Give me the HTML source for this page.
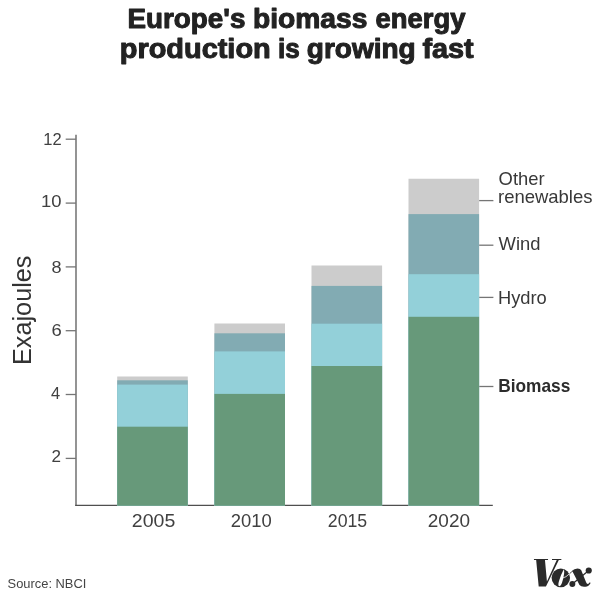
<!DOCTYPE html>
<html>
<head>
<meta charset="utf-8">
<title>Europe's biomass energy production is growing fast</title>
<style>
html,body{margin:0;padding:0;background:#fff;}
body{width:600px;height:603px;overflow:hidden;font-family:"Liberation Sans",sans-serif;}
svg{display:block;}
text{font-family:"Liberation Sans",sans-serif;}
.axis{stroke:#5a5a5a;stroke-width:1.3;fill:none;}
.tk{stroke:#757575;stroke-width:1.3;fill:none;}
</style>
</head>
<body>
<svg width="600" height="603" viewBox="0 0 600 603">
<rect width="600" height="603" fill="#ffffff"/>
<g>
<rect width="600" height="603" fill="#ffffff"/>

<!-- axes -->
<path class="axis" d="M76 134.8 V505.9"/>
<path d="M75.25 505.35 H492.8" stroke="#4f4f4f" stroke-width="1.1" fill="none"/>
<g class="tk">
<path d="M65.7 139.2H76"/>
<path d="M65.7 203.1H76"/>
<path d="M65.7 266.9H76"/>
<path d="M65.7 330.7H76"/>
<path d="M65.7 394.5H76"/>
<path d="M65.7 458.4H76"/>
<path d="M479.1 200.6H493.4"/>
<path d="M479.1 245.2H493.4"/>
<path d="M479.1 297.4H493.4"/>
<path d="M479.1 386.5H493.4"/>
</g>

<!-- bars -->
<g id="bars">
<defs>
<clipPath id="cb0"><rect x="117.2" y="376.4" width="70.6" height="129.3"/></clipPath>
<clipPath id="cb1"><rect x="214.4" y="323.6" width="70.6" height="182.1"/></clipPath>
<clipPath id="cb2"><rect x="311.5" y="265.6" width="70.6" height="240.1"/></clipPath>
<clipPath id="cb3"><rect x="408.5" y="178.8" width="70.6" height="326.9"/></clipPath>
</defs>
<g clip-path="url(#cb0)">
<rect x="114.2" y="373.4" width="76.6" height="134.9" fill="#cccccc"/>
<rect x="114.2" y="380.3" width="76.6" height="128.0" fill="#82abb3"/>
<rect x="114.2" y="384.6" width="76.6" height="123.7" fill="#93d0d9"/>
<rect x="114.2" y="426.7" width="76.6" height="81.6" fill="#67997a"/>
</g>
<g clip-path="url(#cb1)">
<rect x="211.4" y="320.6" width="76.6" height="187.7" fill="#cccccc"/>
<rect x="211.4" y="333.3" width="76.6" height="175.0" fill="#82abb3"/>
<rect x="211.4" y="351.4" width="76.6" height="156.9" fill="#93d0d9"/>
<rect x="211.4" y="393.9" width="76.6" height="114.4" fill="#67997a"/>
</g>
<g clip-path="url(#cb2)">
<rect x="308.5" y="262.6" width="76.6" height="245.7" fill="#cccccc"/>
<rect x="308.5" y="285.9" width="76.6" height="222.4" fill="#82abb3"/>
<rect x="308.5" y="323.7" width="76.6" height="184.6" fill="#93d0d9"/>
<rect x="308.5" y="366.0" width="76.6" height="142.3" fill="#67997a"/>
</g>
<g clip-path="url(#cb3)">
<rect x="405.5" y="175.8" width="76.6" height="332.5" fill="#cccccc"/>
<rect x="405.5" y="214.1" width="76.6" height="294.2" fill="#82abb3"/>
<rect x="405.5" y="274.2" width="76.6" height="234.1" fill="#93d0d9"/>
<rect x="405.5" y="316.8" width="76.6" height="191.5" fill="#67997a"/>
</g>
</g><!-- /bars -->


<!-- TEXT-BEGIN -->
<g opacity="0.999">
<text transform="translate(127.47 28.00) scale(1.0309 1)" font-size="27" font-weight="bold" fill="#222" stroke="#222" stroke-width="1.0" stroke-linejoin="round">Europe's</text>
<text transform="translate(252.96 28.00) scale(1.0444 1)" font-size="27" font-weight="bold" fill="#222" stroke="#222" stroke-width="1.0" stroke-linejoin="round">biomass</text>
<text transform="translate(375.58 28.00) scale(1.0157 1)" font-size="27" font-weight="bold" fill="#222" stroke="#222" stroke-width="1.0" stroke-linejoin="round">energy</text>
<text transform="translate(119.73 57.50) scale(1.0716 1)" font-size="27" font-weight="bold" fill="#222" stroke="#222" stroke-width="1.0" stroke-linejoin="round">production</text>
<text transform="translate(278.03 57.50) scale(0.9658 1)" font-size="27" font-weight="bold" fill="#222" stroke="#222" stroke-width="1.0" stroke-linejoin="round">is</text>
<text transform="translate(306.76 57.50) scale(1.0382 1)" font-size="27" font-weight="bold" fill="#222" stroke="#222" stroke-width="1.0" stroke-linejoin="round">growing</text>
<text transform="translate(422.40 57.50) scale(1.0682 1)" font-size="27" font-weight="bold" fill="#222" stroke="#222" stroke-width="1.0" stroke-linejoin="round">fast</text>
<text transform="translate(43.25 144.70) scale(0.9539 1)" font-size="17.3" fill="#404040">12</text>
<text transform="translate(40.93 207.00) scale(1.0675 1)" font-size="17.3" fill="#404040">10</text>
<text transform="translate(51.40 272.70) scale(1.0444 1)" font-size="17.3" fill="#404040">8</text>
<text transform="translate(51.40 336.40) scale(1.0667 1)" font-size="17.3" fill="#404040">6</text>
<text transform="translate(51.00 398.60) scale(0.9500 1)" font-size="17.3" fill="#404040">4</text>
<text transform="translate(51.40 461.70) scale(0.9889 1)" font-size="17.3" fill="#404040">2</text>
<text transform="translate(131.80 527.20) scale(1.0618 1)" font-size="18.4" fill="#404040">2005</text>
<text transform="translate(230.80 527.20) scale(1.0029 1)" font-size="18.4" fill="#404040">2010</text>
<text transform="translate(327.80 527.20) scale(0.9635 1)" font-size="18.4" fill="#404040">2015</text>
<text transform="translate(427.80 527.20) scale(1.0323 1)" font-size="18.4" fill="#404040">2020</text>
<text transform="translate(498.60 184.60) scale(0.9890 1)" font-size="18.6" fill="#383838">Other</text>
<text transform="translate(498.01 203.40) scale(0.9936 1)" font-size="18.6" fill="#383838">renewables</text>
<text transform="translate(498.60 250.30) scale(0.9900 1)" font-size="18.6" fill="#383838">Wind</text>
<text transform="translate(497.92 303.50) scale(0.9843 1)" font-size="18.6" fill="#383838">Hydro</text>
<text transform="translate(498.25 391.70) scale(0.9505 1)" font-size="18.2" font-weight="bold" fill="#2c2c2c">Biomass</text>
<text transform="translate(7.60 588.00) scale(0.9550 1)" font-size="13.5" fill="#444">Source: NBCI</text>
<text transform="translate(30.80 365.00) rotate(-90) scale(0.9978 1)" font-size="25.3" fill="#333">Exajoules</text>
</g>
<!-- TEXT-END -->

<!-- vox logo placeholder -->
<g id="vox" fill="#2a2a2a" transform="translate(530 553) scale(0.11)">
<path d="M36 55 H164 V64 H136 L154 258 L243 64 H200 V55 H285 V64 H262 L145 304 H79 L56 64 H36 Z"/>
<ellipse cx="280" cy="226" rx="84" ry="85"/>
<path d="M308 148 C300 160 285 195 276 218 C266 245 258 270 258 285 C258 295 260 300 265 303 C272 303 280 295 285 285 C292 270 300 240 305 215 C310 195 314 170 308 148 Z" fill="#fff"/>
<path d="M285 232 Q330 222 362 186" stroke="#fff" stroke-width="7" fill="none"/>
<path d="M360 188 Q380 170 394 158" stroke="#2a2a2a" stroke-width="8" fill="none"/>
<path d="M384 163 Q400 141 432 140 Q458 140 466 157 L510 266 Q517 286 531 280 Q539 276 544 267 L551 272 Q535 303 503 307 Q466 311 450 292 Z"/>
<path d="M385 282 L534 159" stroke="#2a2a2a" stroke-width="11" fill="none"/>
<circle cx="385" cy="282" r="27"/>
<circle cx="534" cy="159" r="28"/>
</g>
</g>
</svg>
</body>
</html>
